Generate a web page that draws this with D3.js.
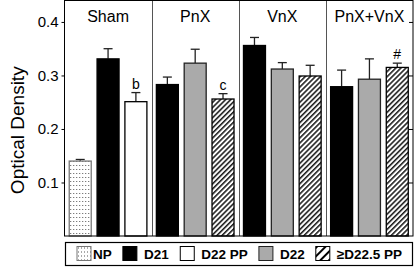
<!DOCTYPE html>
<html>
<head>
<meta charset="utf-8">
<script src="https://cdn.jsdelivr.net/npm/d3@7"></script>
<style>
  body { margin: 0; background: #fff; }
  svg { display: block; font-family: "Liberation Sans", Arial, sans-serif; }
</style>
</head>
<body>
<div id="chart"></div>
<script>
// chart values
const panels = ["Sham", "PnX", "VnX", "PnX+VnX"];
const groups = [
    ["NP", "D21", "D22 PP"],
    ["D21", "D22", "≥D22.5 PP"],
    ["D21", "D22", "≥D22.5 PP"],
    ["D21", "D22", "≥D22.5 PP"]
];
const means = [
    [0.140, 0.331, 0.251],
    [0.283, 0.323, 0.256],
    [0.356, 0.312, 0.299],
    [0.279, 0.293, 0.315]
];
const errors = [
    [0.003, 0.019, 0.017],
    [0.014, 0.026, 0.010],
    [0.015, 0.012, 0.020],
    [0.031, 0.038, 0.008]
];
const marks = [
    ["", "", "b"],
    ["", "", "c"],
    ["", "", ""],
    ["", "", "#"]
];
const yTicks = [0.1, 0.2, 0.3, 0.4];
const legendItems = ["NP", "D21", "D22 PP", "D22", "≥D22.5 PP"];

const width = 418, height = 269;
const plot = {left: 64.5, right: 413, top: 0.5, bottom: 236};

const svg = d3.select("#chart").append("svg")
    .attr("width", width)
    .attr("height", height);

// patterns
const defs = svg.append("defs");
const dots = defs.append("pattern")
    .attr("id", "dots")
    .attr("patternUnits", "userSpaceOnUse")
    .attr("width", 3).attr("height", 4);
dots.append("rect").attr("width", 3).attr("height", 4).attr("fill", "#fff");
dots.append("rect").attr("x", 1).attr("y", 1).attr("width", 1).attr("height", 1).attr("fill", "#555");

const hatch = defs.append("pattern")
    .attr("id", "hatch")
    .attr("patternUnits", "userSpaceOnUse")
    .attr("width", 3.6).attr("height", 10)
    .attr("patternTransform", "rotate(45)");
hatch.append("rect").attr("width", 3.6).attr("height", 10).attr("fill", "#fff");
hatch.append("line").attr("x1", 0.8).attr("x2", 0.8).attr("y1", 0).attr("y2", 10)
    .attr("stroke", "#000").attr("stroke-width", 1.4);

// legend swatch hatch is coarser
const hatchBig = defs.append("pattern")
    .attr("id", "hatch-big")
    .attr("patternUnits", "userSpaceOnUse")
    .attr("width", 6).attr("height", 10)
    .attr("patternTransform", "rotate(45)");
hatchBig.append("rect").attr("width", 6).attr("height", 10).attr("fill", "#fff");
hatchBig.append("line").attr("x1", 1).attr("x2", 1).attr("y1", 0).attr("y2", 10)
    .attr("stroke", "#000").attr("stroke-width", 2);

const fills = {
    "NP": "url(#dots)",
    "D21": "#000",
    "D22 PP": "#fff",
    "D22": "#aaa",
    "≥D22.5 PP": "url(#hatch)"
};
const strokes = {
    "NP": "#777",
    "D21": "#000",
    "D22 PP": "#000",
    "D22": "#222",
    "≥D22.5 PP": "#000"
};

// scales
const y = d3.scaleLinear()
    .domain([0, 0.441])
    .range([plot.bottom, 0]);

const panelScale = d3.scaleBand()
    .domain(panels)
    .range([plot.left, plot.right])
    .padding(0);

const barScale = d3.scaleBand()
    .domain([0, 1, 2])
    .range([0, panelScale.bandwidth()])
    .paddingInner(0.21)
    .paddingOuter(0.17);

// panel dividers
svg.selectAll(".divider")
    .data(panels.slice(1))
    .join("line")
    .attr("class", "divider")
    .attr("x1", d => Math.round(panelScale(d)) + 0.5)
    .attr("x2", d => Math.round(panelScale(d)) + 0.5)
    .attr("y1", plot.top)
    .attr("y2", plot.bottom)
    .attr("stroke", "#555")
    .attr("stroke-width", 1);

// bars
const rows = [];
panels.forEach((p, i) => {
    groups[i].forEach((g, j) => {
        rows.push({panel: p, idx: j, group: g, mean: means[i][j], err: errors[i][j], mark: marks[i][j]});
    });
});

const barG = svg.selectAll(".bar")
    .data(rows)
    .join("g")
    .attr("class", "bar")
    .attr("transform", d => `translate(${panelScale(d.panel) + barScale(d.idx)}, 0)`);

barG.append("line")
    .attr("x1", barScale.bandwidth() / 2)
    .attr("x2", barScale.bandwidth() / 2)
    .attr("y1", d => y(d.mean))
    .attr("y2", d => y(d.mean + d.err))
    .attr("stroke", "#222")
    .attr("stroke-width", 1.3);

barG.append("line")
    .attr("x1", barScale.bandwidth() / 2 - 4.5)
    .attr("x2", barScale.bandwidth() / 2 + 4.5)
    .attr("y1", d => y(d.mean + d.err))
    .attr("y2", d => y(d.mean + d.err))
    .attr("stroke", "#222")
    .attr("stroke-width", 1.3);

barG.append("rect")
    .attr("x", 0)
    .attr("y", d => y(d.mean))
    .attr("width", barScale.bandwidth())
    .attr("height", d => y(0) - y(d.mean))
    .attr("fill", d => fills[d.group])
    .attr("stroke", d => strokes[d.group])
    .attr("stroke-width", 1.3);

barG.filter(d => d.mark !== "")
    .append("text")
    .attr("x", barScale.bandwidth() / 2)
    .attr("y", d => y(d.mean + d.err) - 4)
    .attr("text-anchor", "middle")
    .attr("font-size", 14)
    .text(d => d.mark);

// panel titles
svg.selectAll(".panel-title")
    .data(panels)
    .join("text")
    .attr("class", "panel-title")
    .attr("x", d => panelScale(d) + panelScale.bandwidth() / 2)
    .attr("y", 22)
    .attr("text-anchor", "middle")
    .attr("font-size", 16)
    .text(d => d);

// axes
const yAxis = d3.axisLeft(y)
    .tickValues(yTicks)
    .tickSize(3)
    .tickPadding(3)
    .tickFormat(d3.format(".1f"));

svg.append("g")
    .attr("transform", `translate(${plot.left}, 0)`)
    .call(yAxis)
    .call(g => g.select(".domain").remove())
    .call(g => g.selectAll("text").attr("font-size", 15).attr("font-family", null).attr("fill", "#000"));

const yAxisRight = d3.axisLeft(y)
    .tickValues(yTicks)
    .tickSize(4)
    .tickFormat("");

svg.append("g")
    .attr("transform", `translate(${plot.right}, 0)`)
    .call(yAxisRight)
    .call(g => g.select(".domain").remove());

// frame
svg.append("rect")
    .attr("x", plot.left)
    .attr("y", plot.top)
    .attr("width", plot.right - plot.left)
    .attr("height", plot.bottom - plot.top)
    .attr("fill", "none")
    .attr("stroke", "#000")
    .attr("stroke-width", 1);

// y title
svg.append("text")
    .attr("transform", `translate(24, ${(plot.top + plot.bottom) / 2 + 12}) rotate(-90)`)
    .attr("text-anchor", "middle")
    .attr("font-size", 19)
    .text("Optical Density");

// legend
const legend = svg.append("g").attr("class", "legend");
legend.append("rect")
    .attr("x", 65.5)
    .attr("y", 242.5)
    .attr("width", 347)
    .attr("height", 23)
    .attr("fill", "#fff")
    .attr("stroke", "#000")
    .attr("stroke-width", 1.2);

const sw = 14, legStart = 77, legEnd = 402;

const li = legend.selectAll(".item")
    .data(legendItems)
    .join("g")
    .attr("class", "item");

li.append("rect")
    .attr("x", 0).attr("y", 0)
    .attr("width", sw).attr("height", sw)
    .attr("fill", d => d === "≥D22.5 PP" ? "url(#hatch-big)" : fills[d])
    .attr("stroke", d => strokes[d])
    .attr("stroke-width", 1);

li.append("text")
    .attr("x", d => d === "NP" ? sw + 2 : sw + 7)
    .attr("y", 12)
    .attr("font-size", 13.5)
    .attr("font-weight", "bold")
    .text(d => d);

// lay the items out evenly between legStart and legEnd
const itemW = [];
li.each(function (d) {
    itemW.push(this.getBBox().width);
});
const gap = (legEnd - legStart - d3.sum(itemW)) / (legendItems.length - 1);
let cx = legStart;
li.attr("transform", (d, i) => {
    const t = `translate(${cx}, 246.5)`;
    cx += itemW[i] + gap;
    return t;
});
</script>
</body>
</html>
